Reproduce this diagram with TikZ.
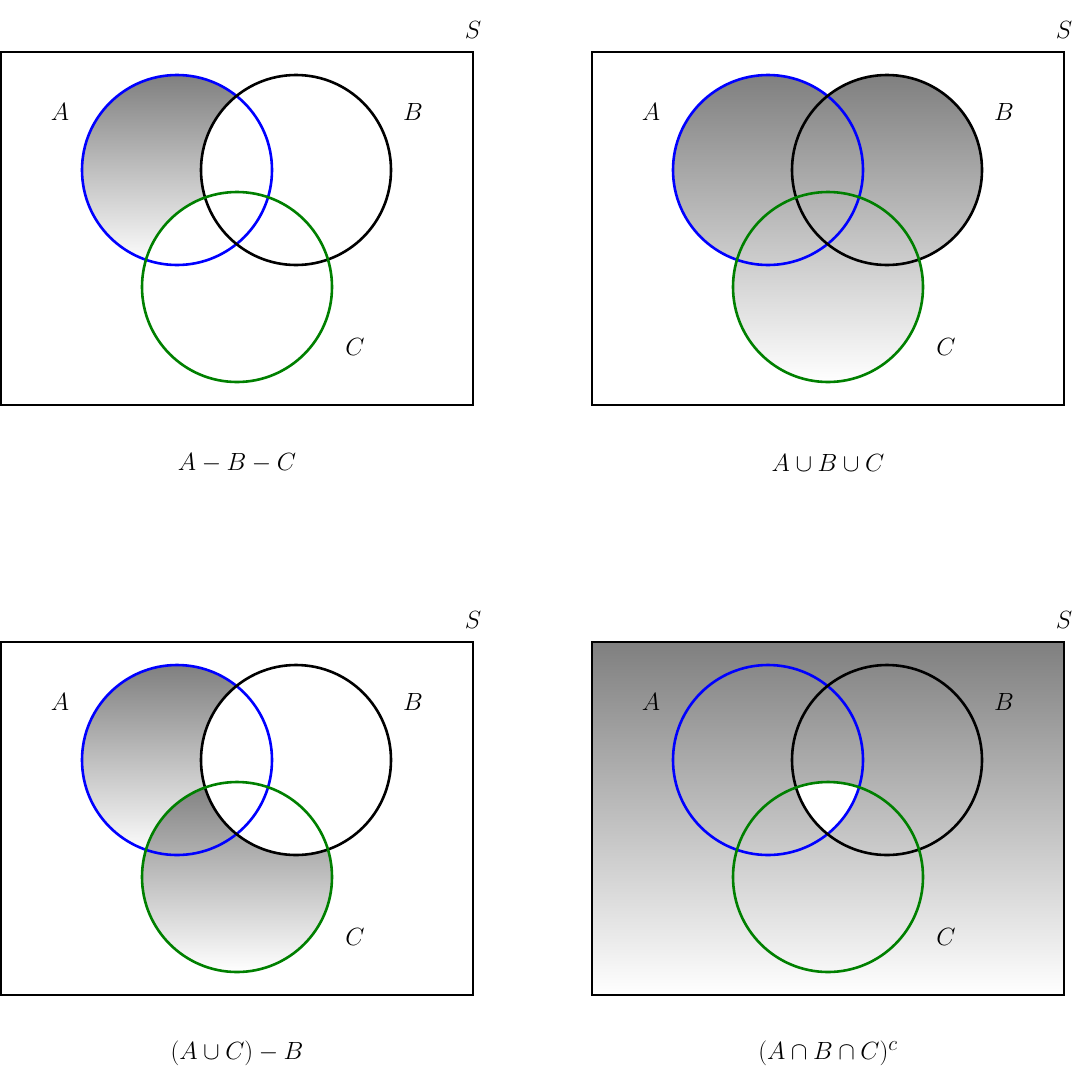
\documentclass[tikz,border=0pt]{standalone}
\definecolor{shade}{RGB}{214,214,214}
\definecolor{cgreen}{RGB}{0,128,0}
\tikzset{lab/.style={font=\fontsize{32}{38}\selectfont}, circ/.style={line width=2.6pt}}
\newcommand{\Ac}{(177,170) circle (95)}
\newcommand{\Bc}{(296,170) circle (95)}
\newcommand{\Cc}{(237,287) circle (95)}
\newcommand{\vpanel}[4]{%
\begin{scope}[shift={(#1,#2)}]
#3
\draw[line width=1.3pt] (1,52) rectangle (473,405);
\draw[circ,blue] \Ac;
\draw[circ,black] \Bc;
\draw[circ,cgreen] \Cc;
\node[lab] (a#1#2) at (60,112) {$A$};
\node[lab] (b#1#2) at (413,112) {$B$};
\node[lab] (c#1#2) at (355,347) {$C$};
\node[lab] (s#1#2) at (473,30) {$S$};
\node[lab] (t#1#2) at (237,463) {#4};
\end{scope}}
\begin{document}
\begin{tikzpicture}[x=1pt,y=-1pt]
\useasboundingbox (0,0) rectangle (1092,1090);
\vpanel{0}{0}{\fill[shade] \Ac; \fill[white] \Bc; \fill[white] \Cc;}{$A-B-C$}
\vpanel{591}{0}{\fill[shade] \Ac \Bc \Cc;}{$A\cup B\cup C$}
\vpanel{0}{590}{\fill[shade] \Ac; \fill[shade] \Cc; \fill[white] \Bc;}{$(A\cup C)-B$}
\vpanel{591}{590}{\fill[shade] (1,52) rectangle (473,405); \begin{scope}\clip \Ac; \clip \Bc; \fill[white] \Cc; \end{scope}}{$(A\cap B\cap C)^c$}
\end{tikzpicture}
\end{document}
